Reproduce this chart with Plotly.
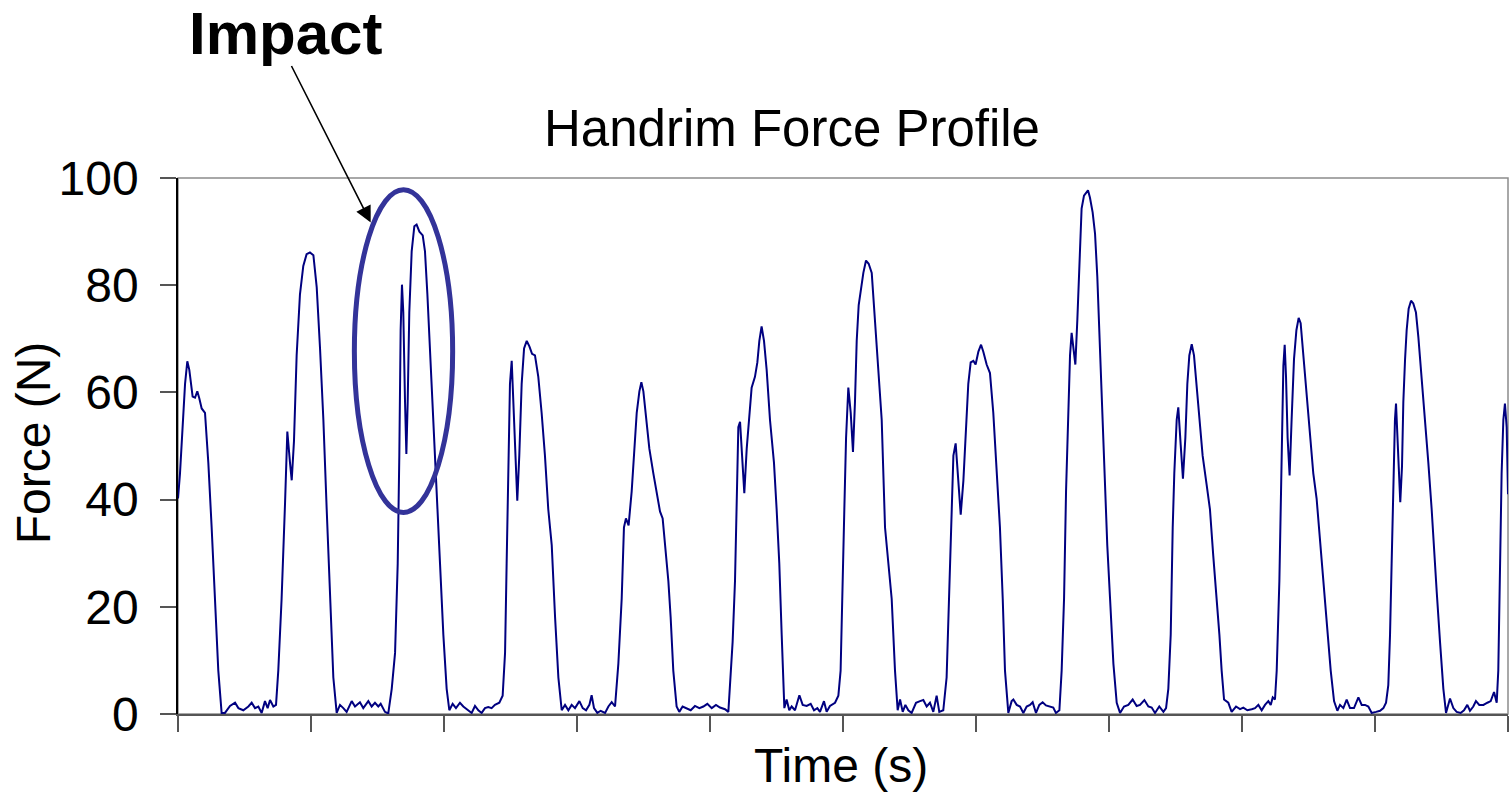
import plotly.graph_objects as go

# time (s) and handrim force (N)
time_s = [
    0.000, 0.015, 0.053, 0.070, 0.085, 0.110, 0.128, 0.145, 0.160, 0.178,
    0.203, 0.228, 0.253, 0.278, 0.303, 0.328, 0.353, 0.391, 0.429, 0.454,
    0.491, 0.529, 0.554, 0.579, 0.604, 0.629, 0.654, 0.674, 0.692, 0.717,
    0.737, 0.754, 0.779, 0.805, 0.822, 0.842, 0.855, 0.872, 0.892, 0.917,
    0.942, 0.967, 0.992, 1.018, 1.043, 1.068, 1.093, 1.118, 1.143, 1.168,
    1.193, 1.218, 1.243, 1.268, 1.306, 1.331, 1.368, 1.393, 1.431, 1.456,
    1.481, 1.506, 1.524, 1.556, 1.581, 1.607, 1.632, 1.652, 1.664, 1.674,
    1.684, 1.694, 1.707, 1.717, 1.727, 1.739, 1.757, 1.777, 1.794, 1.815,
    1.840, 1.857, 1.875, 1.895, 1.920, 1.945, 1.970, 1.995, 2.020, 2.040,
    2.065, 2.090, 2.120, 2.145, 2.208, 2.233, 2.258, 2.283, 2.308, 2.333,
    2.358, 2.383, 2.416, 2.441, 2.459, 2.471, 2.484, 2.496, 2.509, 2.521,
    2.536, 2.551, 2.566, 2.584, 2.602, 2.622, 2.642, 2.662, 2.684, 2.709,
    2.734, 2.759, 2.784, 2.810, 2.835, 2.860, 2.885, 2.910, 2.935, 2.960,
    2.985, 3.018, 3.043, 3.068, 3.093, 3.110, 3.128, 3.153, 3.178, 3.211,
    3.236, 3.261, 3.286, 3.311, 3.336, 3.353, 3.368, 3.388, 3.411, 3.429,
    3.449, 3.469, 3.484, 3.499, 3.519, 3.544, 3.574, 3.599, 3.624, 3.644,
    3.664, 3.687, 3.704, 3.724, 3.749, 3.769, 3.794, 3.825, 3.855, 3.887,
    3.920, 3.950, 3.980, 4.013, 4.045, 4.075, 4.113, 4.138, 4.150, 4.170,
    4.188, 4.201, 4.213, 4.226, 4.241, 4.258, 4.276, 4.296, 4.313, 4.338,
    4.356, 4.371, 4.388, 4.406, 4.426, 4.451, 4.481, 4.501, 4.521, 4.539,
    4.559, 4.576, 4.596, 4.614, 4.639, 4.672, 4.697, 4.727, 4.757, 4.782,
    4.807, 4.827, 4.857, 4.877, 4.902, 4.940, 4.965, 4.982, 4.997, 5.010,
    5.023, 5.040, 5.058, 5.075, 5.090, 5.103, 5.118, 5.133, 5.153, 5.173,
    5.193, 5.216, 5.241, 5.266, 5.291, 5.316, 5.341, 5.366, 5.391, 5.411,
    5.429, 5.449, 5.469, 5.491, 5.516, 5.549, 5.579, 5.604, 5.629, 5.654,
    5.679, 5.704, 5.724, 5.754, 5.779, 5.799, 5.817, 5.830, 5.847, 5.867,
    5.885, 5.905, 5.925, 5.942, 5.960, 5.980, 5.997, 6.018, 6.038, 6.055,
    6.080, 6.105, 6.130, 6.155, 6.180, 6.201, 6.218, 6.243, 6.268, 6.281,
    6.306, 6.331, 6.356, 6.381, 6.406, 6.426, 6.451, 6.476, 6.501, 6.526,
    6.556, 6.581, 6.601, 6.627, 6.644, 6.662, 6.677, 6.694, 6.707, 6.719,
    6.732, 6.747, 6.762, 6.777, 6.794, 6.812, 6.827, 6.842, 6.857, 6.877,
    6.895, 6.912, 6.932, 6.952, 6.970, 6.987, 7.008, 7.033, 7.058, 7.083,
    7.113, 7.145, 7.178, 7.208, 7.233, 7.266, 7.296, 7.321, 7.346, 7.378,
    7.409, 7.429, 7.446, 7.464, 7.479, 7.491, 7.509, 7.521, 7.539, 7.556,
    7.574, 7.589, 7.604, 7.622, 7.639, 7.659, 7.679, 7.704, 7.734, 7.759,
    7.784, 7.810, 7.830, 7.847, 7.865, 7.897, 7.922, 7.955, 7.985, 8.010,
    8.040, 8.073, 8.098, 8.123, 8.148, 8.173, 8.198, 8.216, 8.231, 8.248,
    8.261, 8.281, 8.293, 8.303, 8.311, 8.321, 8.331, 8.343, 8.358, 8.373,
    8.391, 8.409, 8.426, 8.441, 8.461, 8.486, 8.511, 8.536, 8.561, 8.586,
    8.612, 8.642, 8.667, 8.692, 8.717, 8.737, 8.762, 8.787, 8.812, 8.842,
    8.875, 8.900, 8.925, 8.950, 8.975, 9.008, 9.038, 9.063, 9.083, 9.100,
    9.113, 9.125, 9.138, 9.150, 9.158, 9.170, 9.180, 9.190, 9.203, 9.213,
    9.226, 9.238, 9.253, 9.271, 9.288, 9.308, 9.326, 9.351, 9.376, 9.401,
    9.426, 9.446, 9.464, 9.489, 9.514, 9.534, 9.564, 9.589, 9.614, 9.644,
    9.669, 9.694, 9.714, 9.739, 9.759, 9.784, 9.815, 9.845, 9.870, 9.895,
    9.915, 9.927, 9.940, 9.952, 9.965, 9.977, 9.990, 10.000,
]

force_n = [
    40.2, 44.9, 61.6, 65.8, 64.2, 59.2, 59.0, 60.2, 58.9, 57.0,
    56.2, 46.9, 34.8, 21.5, 8.1, 0.2, 0.2, 1.5, 2.1, 1.1,
    0.7, 1.4, 2.1, 1.1, 1.4, 0.2, 2.4, 1.1, 2.6, 1.4,
    1.7, 8.1, 21.5, 39.5, 52.7, 46.9, 43.6, 50.9, 66.9, 78.3,
    83.6, 85.8, 86.1, 85.6, 79.6, 68.2, 54.9, 38.2, 21.5, 6.8,
    0.2, 1.7, 1.1, 0.4, 2.4, 1.4, 2.2, 1.1, 2.4, 1.4,
    2.1, 1.4, 1.9, 0.4, 0.1, 4.7, 11.4, 28.1, 48.2, 71.6,
    80.1, 74.9, 58.2, 48.5, 58.2, 74.9, 86.3, 91.0, 91.3, 90.0,
    89.3, 86.3, 78.3, 68.2, 54.9, 41.5, 28.1, 14.8, 4.7, 0.7,
    1.9, 1.1, 2.1, 1.4, 0.2, 1.5, 0.7, 0.2, 1.1, 1.3,
    1.1, 1.7, 2.1, 3.4, 11.4, 28.1, 48.2, 61.6, 65.9, 58.2,
    46.9, 39.8, 48.2, 61.6, 68.2, 69.6, 68.6, 67.2, 66.9, 62.9,
    56.2, 48.2, 38.2, 31.5, 18.1, 6.8, 0.7, 1.7, 0.7, 1.7,
    1.1, 2.4, 1.1, 0.7, 1.7, 3.5, 1.1, 0.2, 0.6, 0.2,
    1.4, 2.2, 1.4, 9.4, 21.5, 34.8, 36.5, 35.2, 41.5, 48.2,
    56.2, 60.2, 61.9, 60.2, 54.9, 49.5, 44.9, 41.5, 37.8, 36.5,
    31.5, 24.8, 18.1, 8.1, 1.4, 0.4, 1.4, 1.1, 0.7, 1.5,
    1.1, 1.4, 1.9, 1.1, 1.7, 1.2, 0.9, 0.4, 4.7, 13.4,
    24.8, 38.2, 53.5, 54.5, 48.2, 41.2, 49.5, 56.2, 60.9, 62.9,
    65.6, 69.6, 72.3, 69.6, 64.2, 54.9, 46.9, 38.2, 28.1, 14.8,
    1.1, 2.7, 0.7, 1.4, 0.7, 3.5, 1.7, 1.5, 1.9, 0.7,
    1.1, 0.4, 2.4, 0.4, 1.5, 2.1, 3.4, 8.1, 21.5, 38.2,
    51.5, 60.9, 56.2, 48.9, 58.2, 69.6, 76.3, 78.9, 82.3, 84.6,
    84.0, 82.3, 73.6, 64.2, 54.9, 34.8, 28.1, 21.5, 8.1, 0.7,
    2.7, 0.4, 1.7, 0.7, 0.2, 2.1, 2.4, 2.6, 1.4, 2.1,
    0.4, 3.4, 0.4, 0.7, 6.8, 21.5, 38.2, 48.2, 50.5, 44.2,
    37.2, 43.5, 53.5, 61.6, 65.6, 65.9, 65.2, 67.6, 68.9, 67.6,
    65.2, 63.6, 56.2, 44.9, 34.8, 21.5, 8.1, 0.2, 2.4, 2.7,
    1.7, 1.4, 0.2, 1.4, 1.7, 2.2, 0.2, 1.7, 2.2, 1.6,
    1.4, 1.2, 0.2, 0.7, 8.1, 21.5, 41.5, 58.2, 66.9, 71.1,
    68.2, 65.2, 73.6, 85.0, 94.3, 96.7, 97.3, 97.7, 96.3, 93.6,
    89.6, 81.6, 68.2, 54.9, 41.5, 31.5, 21.5, 9.4, 2.1, 0.2,
    1.4, 1.7, 2.7, 1.5, 1.7, 2.6, 1.4, 1.2, 0.2, 1.4,
    0.4, 1.1, 4.7, 14.8, 34.8, 44.9, 54.9, 57.2, 50.2, 43.9,
    51.5, 61.6, 66.9, 69.0, 66.9, 61.6, 54.9, 48.2, 42.8, 38.2,
    29.5, 21.5, 14.8, 8.1, 2.7, 2.1, 0.4, 1.4, 0.9, 1.2,
    0.7, 0.9, 1.1, 1.7, 0.7, 1.7, 2.4, 1.7, 3.1, 2.7,
    8.1, 24.8, 41.5, 58.2, 64.9, 68.9, 62.9, 51.5, 44.5, 54.9,
    66.2, 71.6, 73.9, 72.9, 66.9, 60.2, 51.5, 44.9, 40.2, 32.8,
    24.8, 16.1, 8.1, 2.4, 0.6, 1.7, 1.1, 2.7, 1.1, 1.1,
    3.1, 1.7, 1.7, 1.4, 0.2, 0.4, 0.6, 1.1, 2.1, 5.4,
    14.8, 28.1, 44.9, 54.9, 57.9, 51.5, 44.9, 39.5, 46.2, 58.2,
    66.2, 71.6, 75.6, 77.1, 76.6, 74.9, 70.3, 62.9, 54.9, 46.9,
    38.2, 29.5, 22.8, 13.4, 4.7, 0.2, 2.9, 1.1, 0.4, 0.2,
    0.7, 1.7, 0.6, 1.4, 2.4, 1.7, 1.7, 2.1, 2.4, 4.1,
    2.1, 8.1, 28.1, 44.9, 54.9, 57.9, 53.5, 41.0,
]

x_ticks = [0, 1, 2, 3, 4, 5, 6, 7, 8, 9, 10]
y_ticks = [0, 20, 40, 60, 80, 100]

FONT = "Liberation Sans, Arial, sans-serif"

fig = go.Figure()
fig.add_trace(go.Scatter(
    x=time_s, y=force_n, mode="lines",
    line=dict(color="#000080", width=2),
    showlegend=False, hoverinfo="skip",
))

# gray frame on top/right, darker axes on left/bottom
fig.add_shape(type="rect", xref="paper", yref="paper", x0=0, x1=1, y0=0, y1=1,
              line=dict(color="#8c8c8c", width=1.5), layer="below")

# circle around the impact spike
fig.add_shape(type="circle", xref="x", yref="y", x0=1.326, x1=2.065, y0=37.6, y1=97.8,
              line=dict(color="#333399", width=5))

fig.add_annotation(x=1.449, y=91.7, xref="x", yref="y", text="", showarrow=True,
                   ax=-80, ay=-158, arrowhead=2, arrowsize=2, arrowwidth=1.6,
                   arrowcolor="black", standoff=0)
fig.add_annotation(x=0.0812, y=1.27, xref="paper", yref="paper", text="<b>Impact</b>",
                   xanchor="center", yanchor="middle", showarrow=False,
                   font=dict(family=FONT, size=60, color="black"))

fig.add_annotation(x=0.4618, y=1.093, xref="paper", yref="paper",
                   text="Handrim Force Profile", xanchor="center", yanchor="middle",
                   showarrow=False, font=dict(family=FONT, size=51, color="black"))
fig.add_annotation(x=-0.109, y=0.505, xref="paper", yref="paper", text="Force (N)",
                   textangle=-90, xanchor="center", yanchor="middle", showarrow=False,
                   font=dict(family=FONT, size=48, color="black"))
fig.add_annotation(x=0.4985, y=-0.097, xref="paper", yref="paper", text="Time (s)",
                   xanchor="center", yanchor="middle", showarrow=False,
                   font=dict(family=FONT, size=48, color="black"))

fig.update_xaxes(range=[0, 10], tickvals=x_ticks, showticklabels=False,
                 ticks="outside", ticklen=16, tickcolor="#555555", tickwidth=1.5,
                 showline=True, linecolor="#555555", linewidth=1.5,
                 showgrid=False, zeroline=False)
fig.update_yaxes(range=[0, 100], tickvals=y_ticks,
                 ticks="outside", ticklen=16, tickcolor="#555555", tickwidth=1.5,
                 ticklabelstandoff=12, tickfont=dict(family=FONT, size=48, color="black"),
                 showline=True, linecolor="black", linewidth=1.5,
                 showgrid=False, zeroline=False)

fig.update_layout(
    width=1509, height=794,
    margin=dict(l=178, r=1, t=178, b=80),
    paper_bgcolor="white", plot_bgcolor="white",
    font=dict(family=FONT, color="black"),
)

fig.write_html("out.html", config={"displayModeBar": False},
               post_script="document.body.style.margin='0';")
